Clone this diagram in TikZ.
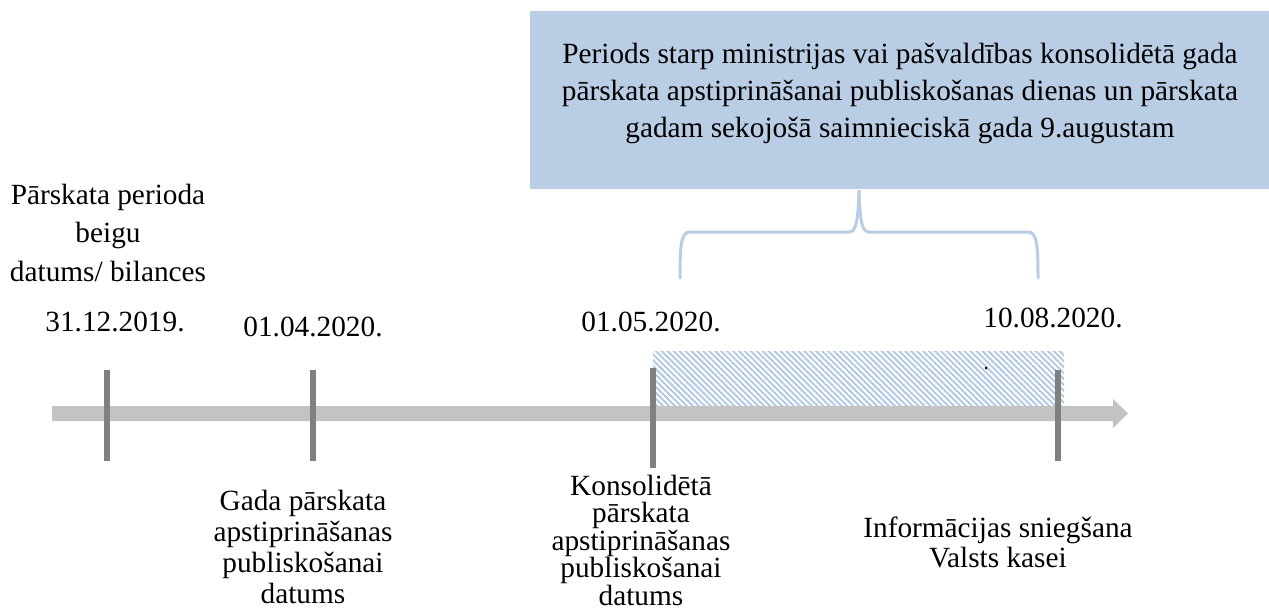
\documentclass[tikz,border=0pt]{standalone}
\usepackage{fontspec}
\setmainfont{Liberation Serif}
\usetikzlibrary{patterns.meta}
\definecolor{boxblue}{HTML}{B9CDE5}
\definecolor{hatchblue}{HTML}{B4C9E4}
\definecolor{axisgray}{HTML}{C3C3C3}
\definecolor{tickgray}{HTML}{808080}
\begin{document}
\begin{tikzpicture}[x=1pt,y=-1pt,
  lbl/.style={inner sep=0pt, align=center, anchor=base},
  fA/.style={font=\fontsize{29.3}{38.5}\selectfont},
  fB/.style={font=\fontsize{29.3}{37}\selectfont},
  fC/.style={font=\fontsize{29.3}{31}\selectfont},
  fD/.style={font=\fontsize{29.3}{27.5}\selectfont},
  fE/.style={font=\fontsize{29.3}{30}\selectfont},
  tickline/.style={draw=tickgray, line width=6pt},
  bracepath/.style={draw=boxblue, line width=3pt, line cap=round}]
\useasboundingbox (0,0) rectangle (1269,610);
% hatched period
\fill[pattern={Lines[angle=-45,distance=4.2pt,line width=2pt]}, pattern color=hatchblue] (653,351) rectangle (1064,406);
% axis arrow
\fill[axisgray] (52,406) -- (1113,406) -- (1113,399) -- (1128,413.5) -- (1113,428) -- (1113,421) -- (52,421) -- cycle;
% ticks
\coordinate (t1a) at (107,370); \coordinate (t1b) at (107,461);
\coordinate (t2a) at (313,370); \coordinate (t2b) at (313,461);
\coordinate (t3a) at (653,368); \coordinate (t3b) at (653,468);
\coordinate (t4a) at (1058,370); \coordinate (t4b) at (1058,461);
\draw[tickline] (t1a) -- (t1b);
\draw[tickline] (t2a) -- (t2b);
\draw[tickline] (t3a) -- (t3b);
\draw[tickline] (t4a) -- (t4b);
% small dot
\fill[black] (986,368) circle (1.5);
% box
\fill[boxblue] (530,11) rectangle (1269,189);
\node[lbl,fB] (boxtxt) at (900,137) {Periods starp ministrijas vai pašvaldības konsolidētā gada\\pārskata apstiprināšanai publiskošanas dienas un pārskata\\gadam sekojošā saimnieciskā gada 9.augustam};
% brace
\draw[bracepath] (680,278) .. controls (680,245) and (681,232) .. (690,232) -- (849,232) .. controls (856,232) and (858,222) .. (859,190) .. controls (860,222) and (862,232) .. (869,232) -- (1028,232) .. controls (1037,232) and (1038,245) .. (1038,278);
% labels
\node[lbl,fA] (l1) at (108,281) {Pārskata perioda\\beigu\\datums/ bilances};
\node[lbl,fA] (d1) at (115,331) {31.12.2019.};
\node[lbl,fA] (d2) at (313,336) {01.04.2020.};
\node[lbl,fA] (d3) at (651,331) {01.05.2020.};
\node[lbl,fA] (d4) at (1053,327) {10.08.2020.};
\node[lbl,fC] (l2) at (303,603) {Gada pārskata\\apstiprināšanas\\publiskošanai\\datums};
\node[lbl,fD] (l3) at (641,605) {Konsolidētā\\pārskata\\apstiprināšanas\\publiskošanai\\datums};
\node[lbl,fE] (l4) at (998,567) {Informācijas sniegšana\\Valsts kasei};
\end{tikzpicture}
\end{document}
